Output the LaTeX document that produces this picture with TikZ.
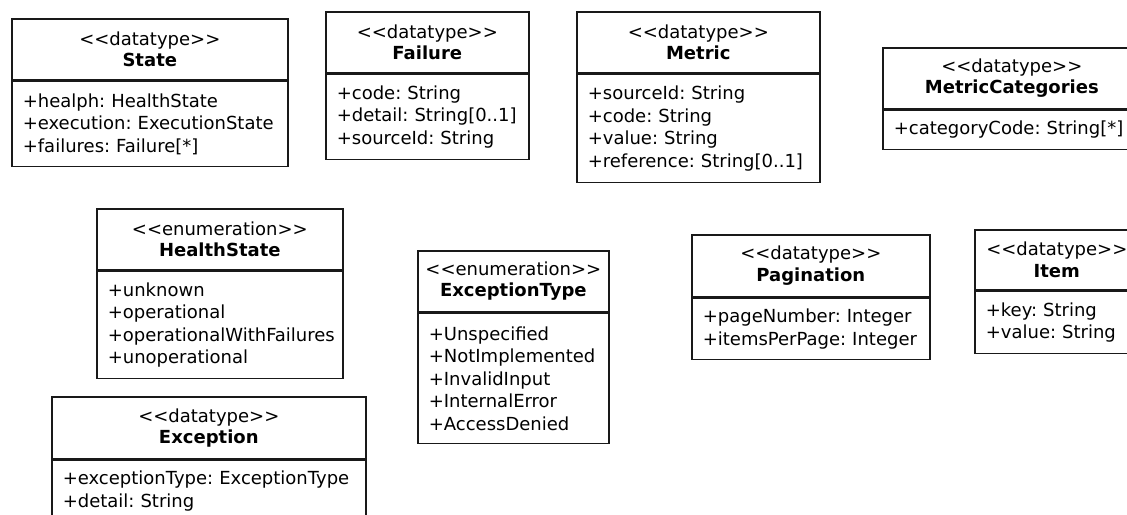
\documentclass[tikz,border=0pt]{standalone}
\usepackage{fontspec}
\setmainfont{DejaVu Sans}
\usetikzlibrary{positioning}
\frenchspacing
\tikzset{
  classhead/.style={rectangle, draw=black!90, line width=1.6pt, align=center, inner sep=0pt, anchor=north west, font=\fontsize{18}{21.5}\selectfont},
  classbody/.style={rectangle, draw=black!90, line width=1.6pt, align=left, inner xsep=11pt, inner ysep=0pt, font=\fontsize{18}{22.5}\selectfont}
}
\begin{document}
\begin{tikzpicture}[x=1pt, y=-1pt]
\useasboundingbox (0,0) rectangle (1127,514);
\clip (0,0) rectangle (1127,514);
% top row
\node[classhead, minimum width=276pt, minimum height=61pt] (statehead) at (11,18) {<{}<datatype>{}>\\\textbf{State}};
\node[classbody, below=0pt of statehead, text width=254pt, minimum height=85pt] (statebody) {\mbox{+healph: HealthState}\\\mbox{+execution: ExecutionState}\\\mbox{+failures: Failure[*]}};
\node[classhead, minimum width=203pt, minimum height=61pt] (failurehead) at (325,11) {<{}<datatype>{}>\\\textbf{Failure}};
\node[classbody, below=0pt of failurehead, text width=181pt, minimum height=85pt] (failurebody) {\mbox{+code: String}\\\mbox{+detail: String[0..1]}\\\mbox{+sourceId: String}};
\node[classhead, minimum width=243pt, minimum height=61pt] (metrichead) at (576,11) {<{}<datatype>{}>\\\textbf{Metric}};
\node[classbody, below=0pt of metrichead, text width=221pt, minimum height=108pt] (metricbody) {\mbox{+sourceId: String}\\\mbox{+code: String}\\\mbox{+value: String}\\\mbox{+reference: String[0..1]}};
\node[classhead, minimum width=258pt, minimum height=61pt] (cathead) at (882,47) {<{}<datatype>{}>\\\textbf{MetricCategories}};
\node[classbody, below=0pt of cathead, text width=236pt, minimum height=39pt] (catbody) {\mbox{+categoryCode: String[*]}};
% middle row
\node[classhead, minimum width=246pt, minimum height=61pt] (healthhead) at (96,208) {<{}<enumeration>{}>\\\textbf{HealthState}};
\node[classbody, below=0pt of healthhead, text width=224pt, minimum height=107pt] (healthbody) {\mbox{+unknown}\\\mbox{+operational}\\\mbox{+operationalWithFailures}\\\mbox{+unoperational}};
\node[classhead, minimum width=191pt, minimum height=61pt] (exctypehead) at (417,250) {<{}<enumeration>{}>\\\textbf{ExceptionType}};
\node[classbody, below=0pt of exctypehead, text width=169pt, minimum height=130pt] (exctypebody) {\mbox{+Unspecified}\\\mbox{+NotImplemented}\\\mbox{+InvalidInput}\\\mbox{+InternalError}\\\mbox{+AccessDenied}};
\node[classhead, minimum width=238pt, minimum height=62pt] (pagehead) at (691,234) {<{}<datatype>{}>\\\textbf{Pagination}};
\node[classbody, below=0pt of pagehead, text width=216pt, minimum height=61pt] (pagebody) {\mbox{+pageNumber: Integer}\\\mbox{+itemsPerPage: Integer}};
\node[classhead, minimum width=164pt, minimum height=60pt] (itemhead) at (974,229) {<{}<datatype>{}>\\\textbf{Item}};
\node[classbody, below=0pt of itemhead, text width=142pt, minimum height=62pt] (itembody) {\mbox{+key: String}\\\mbox{+value: String}};
% bottom
\node[classhead, minimum width=314pt, minimum height=62pt] (exchead) at (51,396) {<{}<datatype>{}>\\\textbf{Exception}};
\node[classbody, below=0pt of exchead, text width=292pt, minimum height=61pt] (excbody) {\mbox{+exceptionType: ExceptionType}\\\mbox{+detail: String}};
\end{tikzpicture}
\end{document}
